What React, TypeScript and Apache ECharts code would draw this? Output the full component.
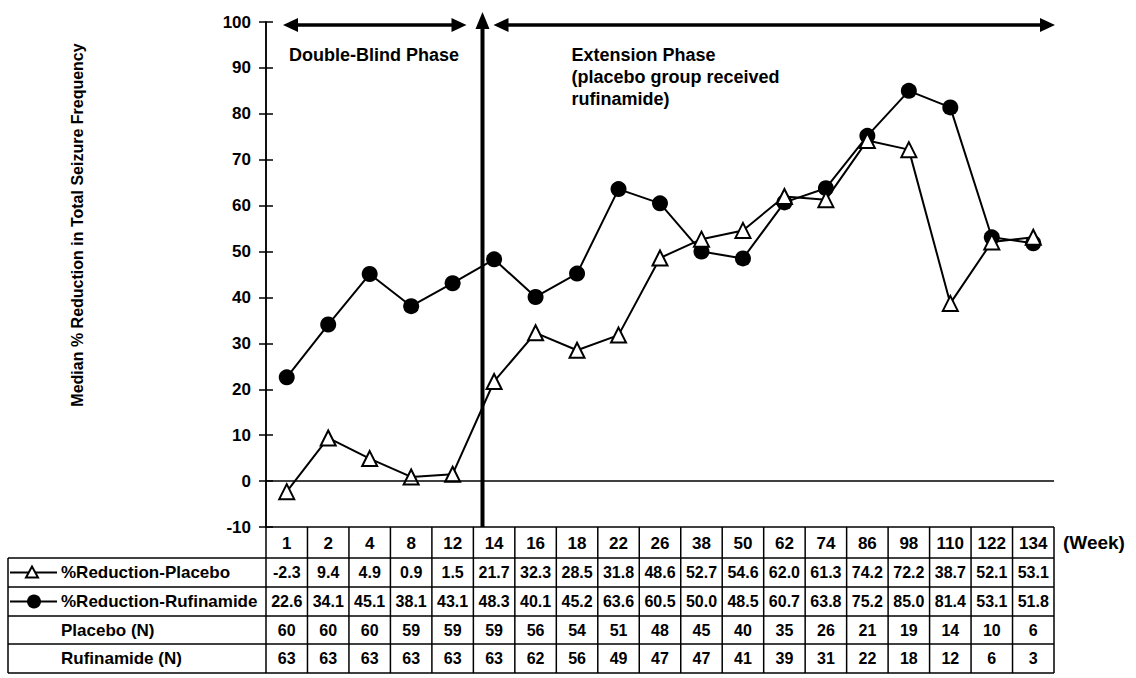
import { useEffect, useRef } from 'react';
import * as echarts from 'echarts';

const weeks = ['1', '2', '4', '8', '12', '14', '16', '18', '22', '26', '38', '50', '62', '74', '86', '98', '110', '122', '134'];
const placeboReduction = [-2.3, 9.4, 4.9, 0.9, 1.5, 21.7, 32.3, 28.5, 31.8, 48.6, 52.7, 54.6, 62.0, 61.3, 74.2, 72.2, 38.7, 52.1, 53.1];
const rufinamideReduction = [22.6, 34.1, 45.1, 38.1, 43.1, 48.3, 40.1, 45.2, 63.6, 60.5, 50.0, 48.5, 60.7, 63.8, 75.2, 85.0, 81.4, 53.1, 51.8];
const placeboN = [60, 60, 60, 59, 59, 59, 56, 54, 51, 48, 45, 40, 35, 26, 21, 19, 14, 10, 6];
const rufinamideN = [63, 63, 63, 63, 63, 63, 62, 56, 49, 47, 47, 41, 39, 31, 22, 18, 12, 6, 3];
const rowLabels = ['%Reduction-Placebo', '%Reduction-Rufinamide', 'Placebo (N)', 'Rufinamide (N)'];
const yMin = -10;
const yMax = 100;
const yInterval = 10;
const yTitle = 'Median % Reduction in Total Seizure Frequency';
const weekLabel = '(Week)';
const phase1Label = 'Double-Blind Phase';
const phase2Label = 'Extension Phase\n(placebo group received\nrufinamide)';

const FONT = 'Arial, "Liberation Sans", Helvetica, sans-serif';

export default function App() {
  const ref = useRef<HTMLDivElement>(null);
  useEffect(() => {
    if (!ref.current) return;
    const chart = echarts.init(ref.current, undefined, { renderer: 'svg' });
    const axisCommon = {
      type: 'value' as const,
      min: yMin,
      max: yMax,
      interval: yInterval,
      position: 'left' as const,
      splitLine: { show: false },
      axisLine: { show: true, lineStyle: { color: '#000', width: 1.5 } },
    };
    chart.setOption({
      animation: false,
      backgroundColor: '#fff',
      grid: { left: 266, right: 82, top: 22, bottom: 151 },
      xAxis: {
        type: 'category',
        data: weeks,
        boundaryGap: true,
        position: 'bottom',
        axisLine: { show: false },
        axisTick: { show: false },
        axisLabel: {
          interval: 0,
          margin: 8,
          color: '#000',
          fontFamily: FONT,
          fontWeight: 'bold',
          fontSize: 17,
        },
      },
      yAxis: [
        {
          ...axisCommon,
          axisTick: { show: true, length: 7, lineStyle: { color: '#000', width: 1.5 } },
          axisLabel: { color: '#000', fontFamily: FONT, fontWeight: 'bold', fontSize: 17, margin: 15 },
        },
        {
          ...axisCommon,
          axisTick: { show: true, inside: true, length: 7, lineStyle: { color: '#000', width: 1.5 } },
          axisLabel: { show: false },
        },
      ],
      series: [
        {
          name: '%Reduction-Placebo',
          type: 'line',
          data: placeboReduction,
          symbol: 'triangle',
          symbolSize: 15,
          itemStyle: { color: '#fff', borderColor: '#000', borderWidth: 2 },
          lineStyle: { color: '#000', width: 2 },
          z: 3,
        },
        {
          name: '%Reduction-Rufinamide',
          type: 'line',
          data: rufinamideReduction,
          symbol: 'circle',
          symbolSize: 16,
          itemStyle: { color: '#000' },
          lineStyle: { color: '#000', width: 2 },
          z: 2,
          markLine: {
            silent: true,
            symbol: 'none',
            label: { show: false },
            lineStyle: { color: '#000', width: 1.5, type: 'solid' },
            data: [{ yAxis: 0 }],
          },
        },
      ],
    });

    const cx = (i: number) => chart.convertToPixel({ xAxisIndex: 0 }, weeks[i]) as number;
    const py = (v: number) => chart.convertToPixel({ yAxisIndex: 0 }, v) as number;
    const colW = cx(1) - cx(0);
    const gridLeft = cx(0) - colW / 2;
    const gridRight = cx(weeks.length - 1) + colW / 2;
    const tableTop = py(yMin);
    const topY = py(yMax);
    const rowH = [31, 29, 29, 28, 29];
    const rowY: number[] = [tableTop];
    rowH.forEach((h) => rowY.push(rowY[rowY.length - 1] + h));
    const tableBottom = rowY[rowY.length - 1];
    const labelLeft = 8;
    const lineStyle = { stroke: '#000', lineWidth: 1.5 };
    const g: any[] = [];

    // horizontal table lines
    g.push({ type: 'line', shape: { x1: gridLeft, y1: tableTop, x2: gridRight, y2: tableTop }, style: lineStyle });
    for (let r = 1; r < rowY.length; r++) {
      g.push({ type: 'line', shape: { x1: labelLeft, y1: rowY[r], x2: gridRight, y2: rowY[r] }, style: lineStyle });
    }
    // vertical table lines
    for (let i = 0; i <= weeks.length; i++) {
      const x = gridLeft + i * colW;
      g.push({ type: 'line', shape: { x1: x, y1: tableTop, x2: x, y2: tableBottom }, style: lineStyle });
    }
    g.push({ type: 'line', shape: { x1: labelLeft, y1: rowY[1], x2: labelLeft, y2: tableBottom }, style: lineStyle });

    const rowsData = [
      placeboReduction.map((v) => v.toFixed(1)),
      rufinamideReduction.map((v) => v.toFixed(1)),
      placeboN.map(String),
      rufinamideN.map(String),
    ];
    rowsData.forEach((vals, r) => {
      const yc = (rowY[r + 1] + rowY[r + 2]) / 2;
      vals.forEach((t, i) => {
        g.push({
          type: 'text',
          x: cx(i),
          y: yc,
          style: { text: t, fill: '#000', font: `bold 16px ${FONT}`, textAlign: 'center', textVerticalAlign: 'middle' },
        });
      });
      g.push({
        type: 'text',
        x: 61,
        y: yc,
        style: { text: rowLabels[r], fill: '#000', font: `bold 17px ${FONT}`, textAlign: 'left', textVerticalAlign: 'middle' },
      });
      if (r < 2) {
        g.push({ type: 'line', shape: { x1: 10, y1: yc, x2: 57, y2: yc }, style: { stroke: '#000', lineWidth: 2 } });
        if (r === 0) {
          g.push({
            type: 'polygon',
            shape: { points: [[32, yc - 6], [26, yc + 5], [38, yc + 5]] },
            style: { fill: '#fff', stroke: '#000', lineWidth: 2 },
          });
        } else {
          g.push({ type: 'circle', shape: { cx: 34, cy: yc, r: 7 }, style: { fill: '#000' } });
        }
      }
    });
    g.push({
      type: 'text',
      x: gridRight + 9,
      y: (rowY[0] + rowY[1]) / 2,
      style: { text: weekLabel, fill: '#000', font: `bold 19px ${FONT}`, textAlign: 'left', textVerticalAlign: 'middle' },
    });

    // phase divider line with arrow
    const phaseX = cx(4) + 0.72 * (cx(5) - cx(4));
    const arrowY = topY + 3;
    g.push({
      type: 'line',
      z: 100,
      shape: { x1: phaseX, y1: topY - 2, x2: phaseX, y2: tableTop },
      style: { stroke: '#000', lineWidth: 4 },
    });
    g.push({
      type: 'polygon',
      z: 100,
      shape: { points: [[phaseX, topY - 10], [phaseX - 7, topY + 7], [phaseX + 7, topY + 7]] },
      style: { fill: '#000' },
    });
    // horizontal double arrows
    const dblArrow = (x1: number, x2: number) => {
      g.push({
        type: 'line',
        z: 100,
        shape: { x1: x1 + 8, y1: arrowY, x2: x2 - 8, y2: arrowY },
        style: { stroke: '#000', lineWidth: 3.5 },
      });
      g.push({ type: 'polygon', z: 100, shape: { points: [[x1, arrowY], [x1 + 15, arrowY - 7], [x1 + 15, arrowY + 7]] }, style: { fill: '#000' } });
      g.push({ type: 'polygon', z: 100, shape: { points: [[x2, arrowY], [x2 - 15, arrowY - 7], [x2 - 15, arrowY + 7]] }, style: { fill: '#000' } });
    };
    dblArrow(gridLeft + 17, phaseX - 16);
    dblArrow(phaseX + 11, gridRight + 1);

    g.push({
      type: 'text',
      x: gridLeft + 23,
      y: 55,
      style: { text: phase1Label, fill: '#000', font: `bold 18px ${FONT}`, textAlign: 'left', textVerticalAlign: 'middle' },
    });
    g.push({
      type: 'text',
      x: phaseX + 89,
      y: 44,
      style: { text: phase2Label, fill: '#000', font: `bold 18px ${FONT}`, textAlign: 'left', textVerticalAlign: 'top', lineHeight: 22 },
    });
    // y axis title
    g.push({
      type: 'text',
      x: 77,
      y: 225,
      rotation: Math.PI / 2,
      style: { text: yTitle, fill: '#000', font: `bold 16px ${FONT}`, textAlign: 'center', textVerticalAlign: 'middle' },
    });

    chart.setOption({ graphic: g });
    return () => chart.dispose();
  }, []);
  return <div ref={ref} style={{ position: 'fixed', left: 0, top: 0, width: 1136, height: 678 }} />;
}
